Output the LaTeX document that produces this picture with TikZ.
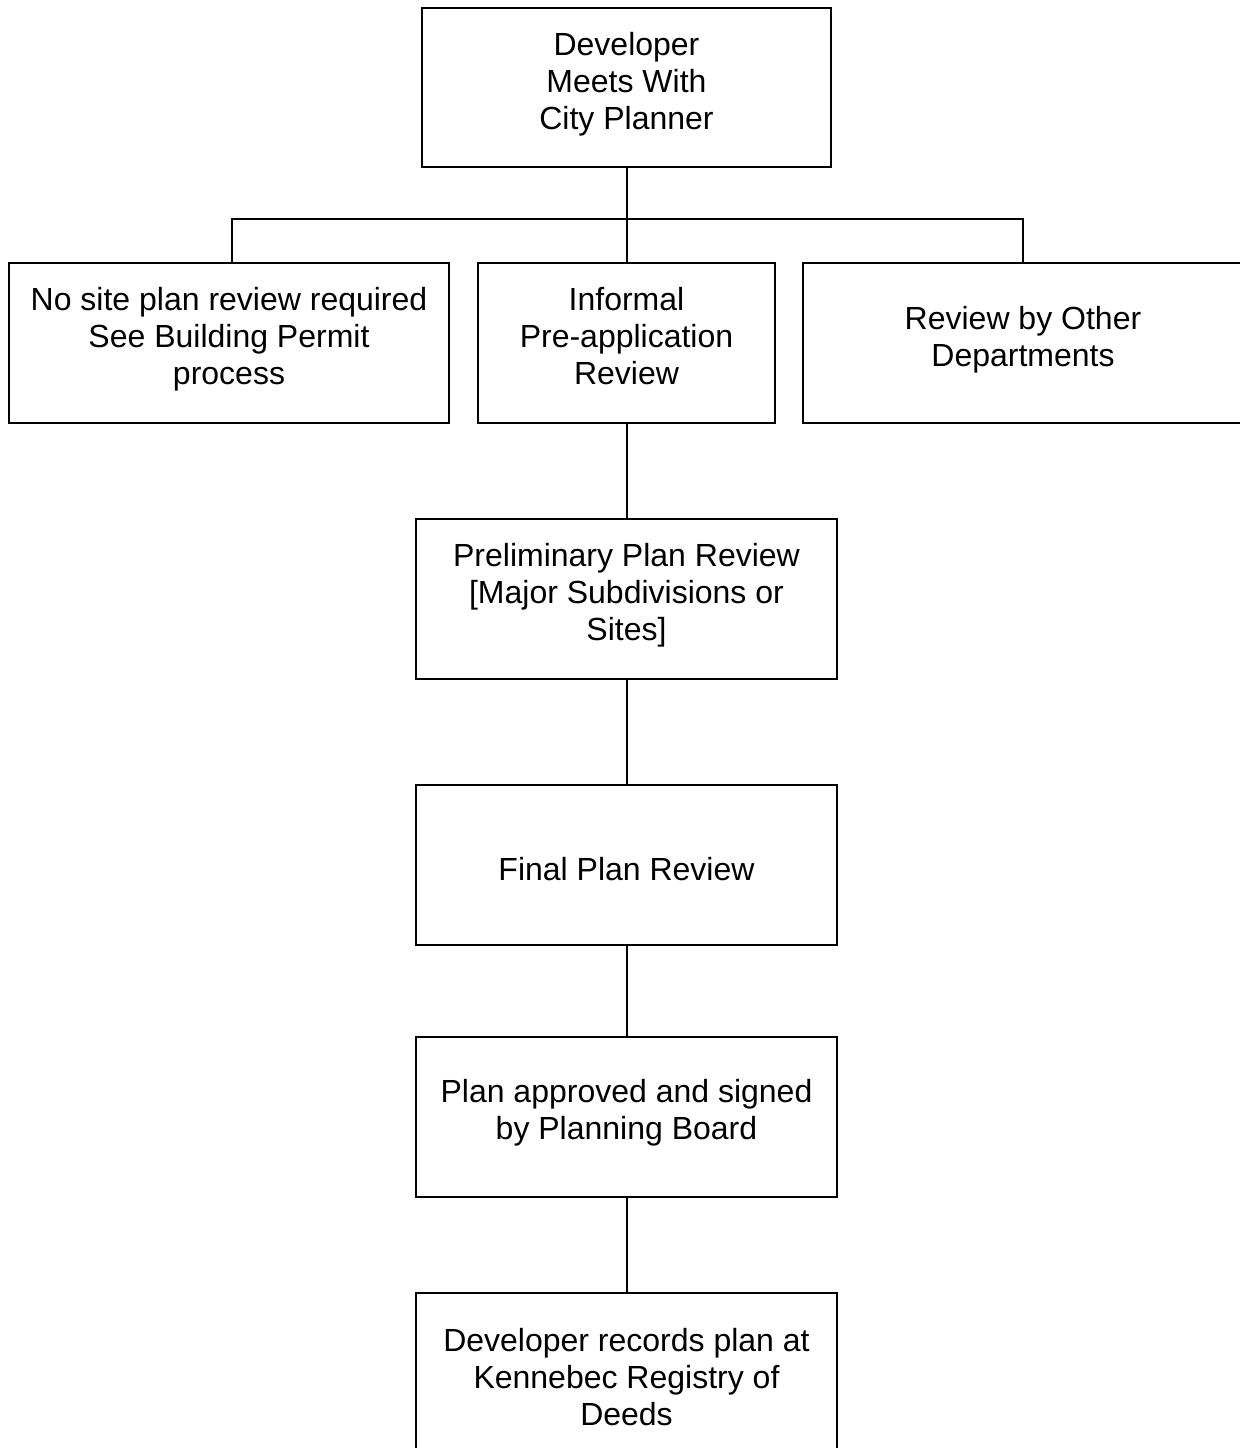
\documentclass[tikz,border=0pt]{standalone}
\usepackage{fontspec}
\setmainfont{Liberation Sans}
\begin{document}
\begin{tikzpicture}[x=0.5pt,y=-0.5pt,
  box/.style={draw=black, line width=1pt, rectangle, inner sep=0pt, align=center,
    font=\fontsize{16pt}{18.5pt}\selectfont},
  threeln/.style={text height=41.66pt, text depth=0pt},
  twoln/.style={text height=23.16pt, text depth=0pt},
  oneln/.style={text height=15.86pt, text depth=0pt},
  link/.style={draw=black, line width=1pt}]
\useasboundingbox (0,0) rectangle (1240,1448);
\clip (0,0) rectangle (1240,1448);
\node[box, threeln, minimum width=204.5pt, minimum height=79.5pt] (top) at (626.5,87.5) {Developer\\Meets With\\City Planner};
\node[box, threeln, minimum width=220pt, minimum height=80pt] (left) at (229,343) {No site plan review required\\See Building Permit\\process};
\node[box, threeln, minimum width=148.5pt, minimum height=80pt] (mid) at (626.5,343) {Informal\\Pre-application\\Review};
\node[box, twoln, minimum width=220pt, minimum height=80pt] (right) at (1023,343) {Review by Other\\Departments};
\node[box, threeln, minimum width=210.5pt, minimum height=80pt] (prelim) at (626.5,599) {Preliminary Plan Review\\{}[Major Subdivisions or\\Sites]};
\node[box, oneln, minimum width=210.5pt, minimum height=80pt] (final) at (626.5,864.5) {Final Plan Review};
\node[box, twoln, minimum width=210.5pt, minimum height=80pt] (approved) at (626.5,1116.5) {Plan approved and signed\\by Planning Board};
\node[box, threeln, minimum width=210.5pt, minimum height=91pt] (records) at (626.5,1384) {Developer records plan at\\Kennebec Registry of\\Deeds};
\coordinate (bus) at (626.5,218.5);
\draw[link] (top.south) -- (bus);
\draw[link] (left.north -| 231.5,0) |- (bus) -| (right.north);
\draw[link] (bus) -- (mid.north);
\draw[link] (mid.south) -- (prelim.north);
\draw[link] (prelim.south) -- (final.north);
\draw[link] (final.south) -- (approved.north);
\draw[link] (approved.south) -- (records.north);
\end{tikzpicture}
\end{document}
